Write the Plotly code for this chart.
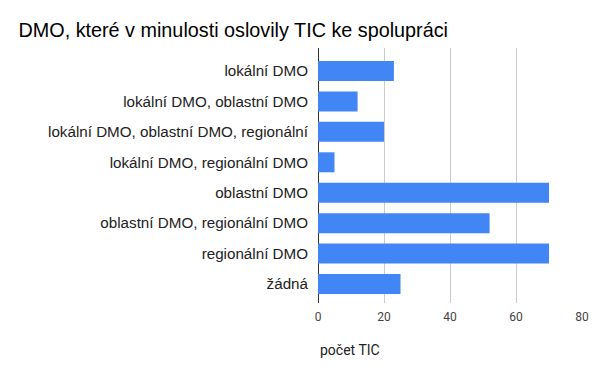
import plotly.graph_objects as go

categories = [
    "lokální DMO",
    "lokální DMO, oblastní DMO",
    "lokální DMO, oblastní DMO, regionální",
    "lokální DMO, regionální DMO",
    "oblastní DMO",
    "oblastní DMO, regionální DMO",
    "regionální DMO",
    "žádná",
]
values = [23, 12, 20, 5, 70, 52, 70, 25]
x_ticks = [0, 20, 40, 60, 80]
title_text = "DMO, které v minulosti oslovily TIC ke spolupráci"
x_title = "počet TIC"

fig = go.Figure(
    go.Bar(
        x=values,
        y=categories,
        orientation="h",
        marker=dict(color="#4285F4", line=dict(width=0)),
        hoverinfo="x+y",
    )
)

fig.update_layout(
    width=600,
    height=371,
    paper_bgcolor="white",
    plot_bgcolor="white",
    margin=dict(l=318, r=18, t=48, b=68, autoexpand=False),
    bargap=0.343,
    showlegend=False,
    title=dict(
        text=title_text,
        x=18.5 / 600,
        xanchor="left",
        xref="container",
        y=1 - 30 / 371,
        yanchor="middle",
        yref="container",
        font=dict(family="Liberation Sans, Arial, sans-serif", size=19.8, color="#000000"),
    ),
    xaxis=dict(
        range=[0, 80],
        tickvals=x_ticks,
        ticktext=[str(v) for v in x_ticks],
        showgrid=True,
        gridcolor="#cccccc",
        gridwidth=1,
        zeroline=True,
        zerolinecolor="#333333",
        zerolinewidth=1,
        showline=False,
        ticks="",
        tickfont=dict(family="Roboto, sans-serif", size=12, color="#444444"),
        ticklabelstandoff=5,
        fixedrange=True,
    ),
    yaxis=dict(
        range=[7.624, -0.756],
        showgrid=False,
        zeroline=False,
        showline=False,
        ticks="",
        tickfont=dict(family="Liberation Sans, Arial, sans-serif", size=15.2, color="#222222"),
        ticklabelstandoff=9,
        fixedrange=True,
    ),
    annotations=[
        dict(
            text=x_title,
            xref="paper",
            x=0,
            xanchor="left",
            yref="paper",
            y=-47 / 255,
            yanchor="middle",
            showarrow=False,
            font=dict(family="Roboto, sans-serif", size=14, color="#222222"),
        )
    ],
)

fig.write_html(
    "out.html",
    config={"displayModeBar": False},
    post_script="document.body.style.margin='0';document.body.style.padding='0';",
)
